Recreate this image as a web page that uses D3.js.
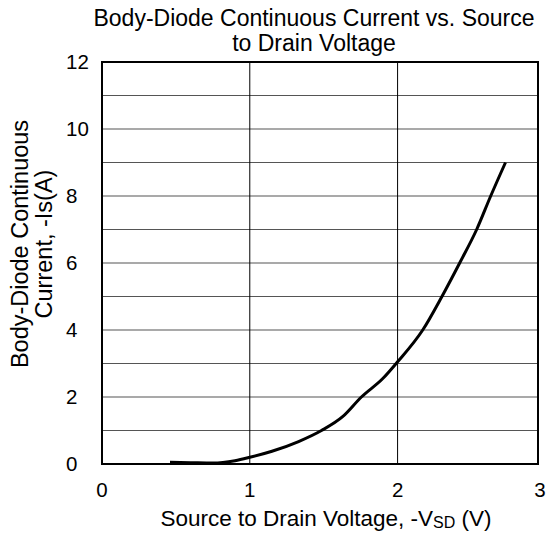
<!DOCTYPE html>
<html>
<head>
<meta charset="utf-8">
<script src="https://cdn.jsdelivr.net/npm/d3@7"></script>
<style>
  body { margin: 0; background: #fff; }
  text { font-family: "Liberation Sans", Arial, sans-serif; fill: #000; }
</style>
</head>
<body>
<div id="chart"></div>
<script>
// —————————— DATA
var vsd = [0.46, 0.6, 0.75, 0.9, 1.0, 1.15, 1.33, 1.485, 1.63, 1.755, 1.9, 2.0, 2.17, 2.3, 2.42, 2.535, 2.63, 2.73];
var isd = [0.05, 0.04, 0.03, 0.1, 0.2, 0.38, 0.67, 1.0, 1.42, 2.0, 2.55, 3.05, 4.0, 5.0, 6.0, 7.0, 8.0, 9.0];
var xTicks = [0, 1, 2, 3];
var yTicks = [0, 2, 4, 6, 8, 10, 12];
var yGrid = [1, 2, 3, 4, 5, 6, 7, 8, 9, 10, 11];
var xGrid = [1, 2];

// —————————— SIZES
var W = 548, H = 536;
var margin = {top: 62, right: 10, bottom: 72, left: 102},
    width = W - margin.left - margin.right,
    height = H - margin.top - margin.bottom;

var svg = d3.select("#chart")
  .append("svg")
    .attr("width", W)
    .attr("height", H);

var g = svg.append("g")
    .attr("transform", "translate(" + margin.left + "," + margin.top + ")");

var x = d3.scaleLinear().domain([0, 2.95]).range([0, width]);
var y = d3.scaleLinear().domain([0, 12]).range([height, 0]);

// grid
g.selectAll(".hgrid")
  .data(yGrid)
  .enter()
  .append("line")
    .attr("class", "hgrid")
    .attr("x1", 0).attr("x2", width)
    .attr("y1", function(d) { return y(d); })
    .attr("y2", function(d) { return y(d); })
    .attr("stroke", "#555")
    .attr("stroke-width", 1.2);

g.selectAll(".vgrid")
  .data(xGrid)
  .enter()
  .append("line")
    .attr("class", "vgrid")
    .attr("y1", 0).attr("y2", height)
    .attr("x1", function(d) { return x(d); })
    .attr("x2", function(d) { return x(d); })
    .attr("stroke", "#000")
    .attr("stroke-width", 1);

// frame
g.append("rect")
  .attr("x", 0).attr("y", 0)
  .attr("width", width).attr("height", height)
  .attr("fill", "none")
  .attr("stroke", "#000")
  .attr("stroke-width", 2);

// tick labels
g.selectAll(".xlab")
  .data(xTicks)
  .enter()
  .append("text")
    .attr("class", "xlab")
    .attr("x", function(d) { return Math.min(x(d), width + 2); })
    .attr("y", height + 33)
    .attr("text-anchor", "middle")
    .style("font-size", "20.5px")
    .text(function(d) { return d; });

g.selectAll(".ylab")
  .data(yTicks)
  .enter()
  .append("text")
    .attr("class", "ylab")
    .attr("x", -36)
    .attr("y", function(d) { return y(d) + 7; })
    .attr("text-anchor", "start")
    .style("font-size", "20.5px")
    .text(function(d) { return d; });

// curve
var line = d3.line()
  .x(function(d, i) { return x(vsd[i]); })
  .y(function(d) { return y(d); })
  .curve(d3.curveMonotoneX);

g.append("path")
  .datum(isd)
  .attr("d", line)
  .attr("fill", "none")
  .attr("stroke", "#000")
  .attr("stroke-width", 3);

// titles
var title = svg.append("text")
  .attr("text-anchor", "middle")
  .style("font-size", "23px");
title.append("tspan").attr("x", 314).attr("y", 26).text("Body-Diode Continuous Current vs. Source");
title.append("tspan").attr("x", 314).attr("y", 51).text("to Drain Voltage");

var xTitle = svg.append("text")
  .attr("x", 326)
  .attr("y", 526)
  .attr("text-anchor", "middle")
  .style("font-size", "22.5px");
xTitle.append("tspan").text("Source to Drain Voltage, -V");
xTitle.append("tspan").attr("dy", 2).style("font-size", "16px").text("SD");
xTitle.append("tspan").attr("dy", -2).text(" (V)");

var yTitle = svg.append("text")
  .attr("transform", "translate(0,244) rotate(-90)")
  .attr("text-anchor", "middle")
  .style("font-size", "23.5px");
yTitle.append("tspan").attr("x", 0).attr("y", 28).text("Body-Diode Continuous");
yTitle.append("tspan").attr("x", 0).attr("y", 52).text("Current, -Is(A)");
</script>
</body>
</html>
